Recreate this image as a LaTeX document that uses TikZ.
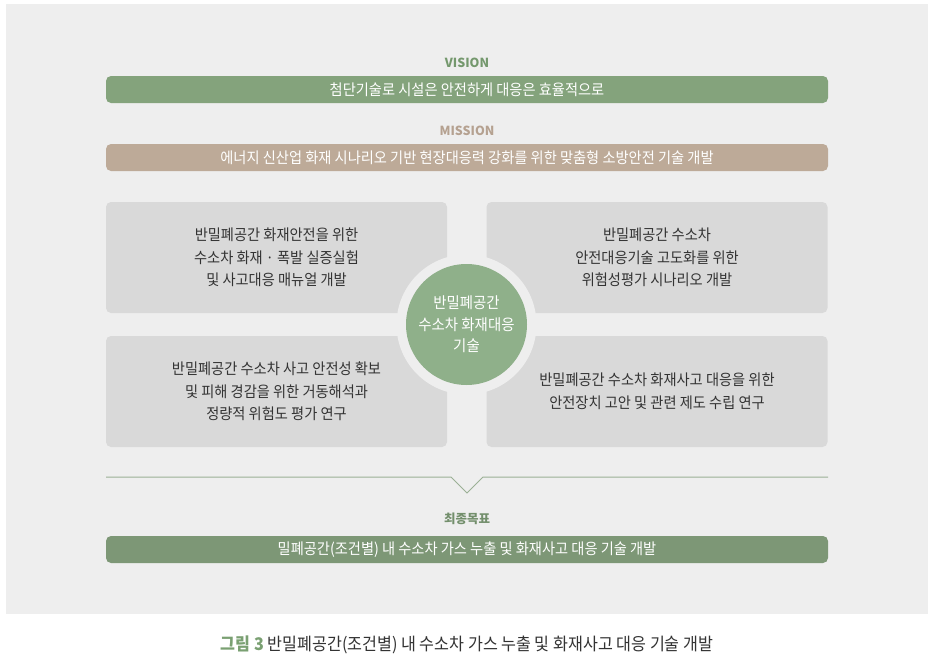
\documentclass[tikz,border=0pt]{standalone}
\usepackage{fontspec}
\setmainfont{Noto Sans CJK KR}[FakeStretch=0.93]
\newfontfamily\lblfont{Noto Sans CJK KR}
\definecolor{bgc}{HTML}{EEEEEE}
\definecolor{boxc}{HTML}{D9D9D9}
\definecolor{visc}{HTML}{84A37C}
\definecolor{misc}{HTML}{BDAA98}
\definecolor{finc}{HTML}{7D9776}
\definecolor{circc}{HTML}{8FB08A}
\definecolor{visl}{HTML}{74986D}
\definecolor{misl}{HTML}{B5A190}
\definecolor{finl}{HTML}{738F6C}
\definecolor{linec}{HTML}{9BB095}
\definecolor{txt}{HTML}{333333}
\definecolor{capg}{HTML}{7AA072}
\begin{document}
\begin{tikzpicture}[x=1pt,y=-1pt,
  bar/.style={rounded corners=5pt, minimum width=722pt, minimum height=27pt, inner sep=0pt, text=white, font=\fontsize{15.3}{17}\selectfont},
  tile/.style={fill=boxc, rounded corners=5pt, minimum width=341pt, minimum height=111pt, inner sep=0pt, align=center, text=txt, font=\fontsize{15.3}{22.7}\selectfont},
  lbl/.style={font=\lblfont\fontsize{12.5}{14}\selectfont\bfseries, inner sep=0pt}]
\useasboundingbox (0,0) rectangle (935,667);
\fill[white] (0,0) rectangle (935,667);
\fill[bgc] (6,4) rectangle (928,614);
% vision / mission
\node[lbl, text=visl] (vlab) at (467,63) {VISION};
\node[bar, fill=visc] (vbar) at (467,89.5) {첨단기술로 시설은 안전하게 대응은 효율적으로};
\node[lbl, text=misl] (mlab) at (467,131) {MISSION};
\node[bar, fill=misc] (mbar) at (467,157.5) {에너지 신산업 화재 시나리오 기반 현장대응력 강화를 위한 맞춤형 소방안전 기술 개발};
% tiles
\node[tile] (tl) at (276.5,257.5) {반밀폐공간 화재안전을 위한\\수소차 화재 · 폭발 실증실험\\및 사고대응 매뉴얼 개발};
\node[tile] (tr) at (657,257.5) {반밀폐공간 수소차\\안전대응기술 고도화를 위한\\위험성평가 시나리오 개발};
\node[tile] (bl) at (276.5,391.5) {반밀폐공간 수소차 사고 안전성 확보\\및 피해 경감을 위한 거동해석과\\정량적 위험도 평가 연구};
\node[tile] (br) at (657,391.5) {반밀폐공간 수소차 화재사고 대응을 위한\\안전장치 고안 및 관련 제도 수립 연구};
% center circle
\node[circle, fill=bgc, minimum size=140pt, inner sep=0pt] (ring) at (466.5,324.5) {};
\node[circle, fill=circc, minimum size=121pt, inner sep=0pt, text=white, align=center, font=\fontsize{15.5}{21.5}\selectfont] (core) at (ring.center) {반밀폐공간\\수소차 화재대응\\기술};
% divider with notch
\coordinate (lineL) at (106,477);
\coordinate (n1) at (451,477);
\coordinate (n2) at (467,493);
\coordinate (n3) at (483,477);
\coordinate (lineR) at (828,477);
\draw[linec, line width=1pt] (lineL) -- (n1) -- (n2) -- (n3) -- (lineR);
% final goal
\node[lbl, text=finl] (flab) at (467,519) {최종목표};
\node[bar, fill=finc] (fbar) at (467,549.5) {밀폐공간(조건별) 내 수소차 가스 누출 및 화재사고 대응 기술 개발};
% caption
\node[inner sep=0pt, text=txt, font=\fontsize{17.4}{19}\selectfont] (cap) at (467,645) {{\color{capg}\bfseries 그림 3} 반밀폐공간(조건별) 내 수소차 가스 누출 및 화재사고 대응 기술 개발};
\end{tikzpicture}
\end{document}
